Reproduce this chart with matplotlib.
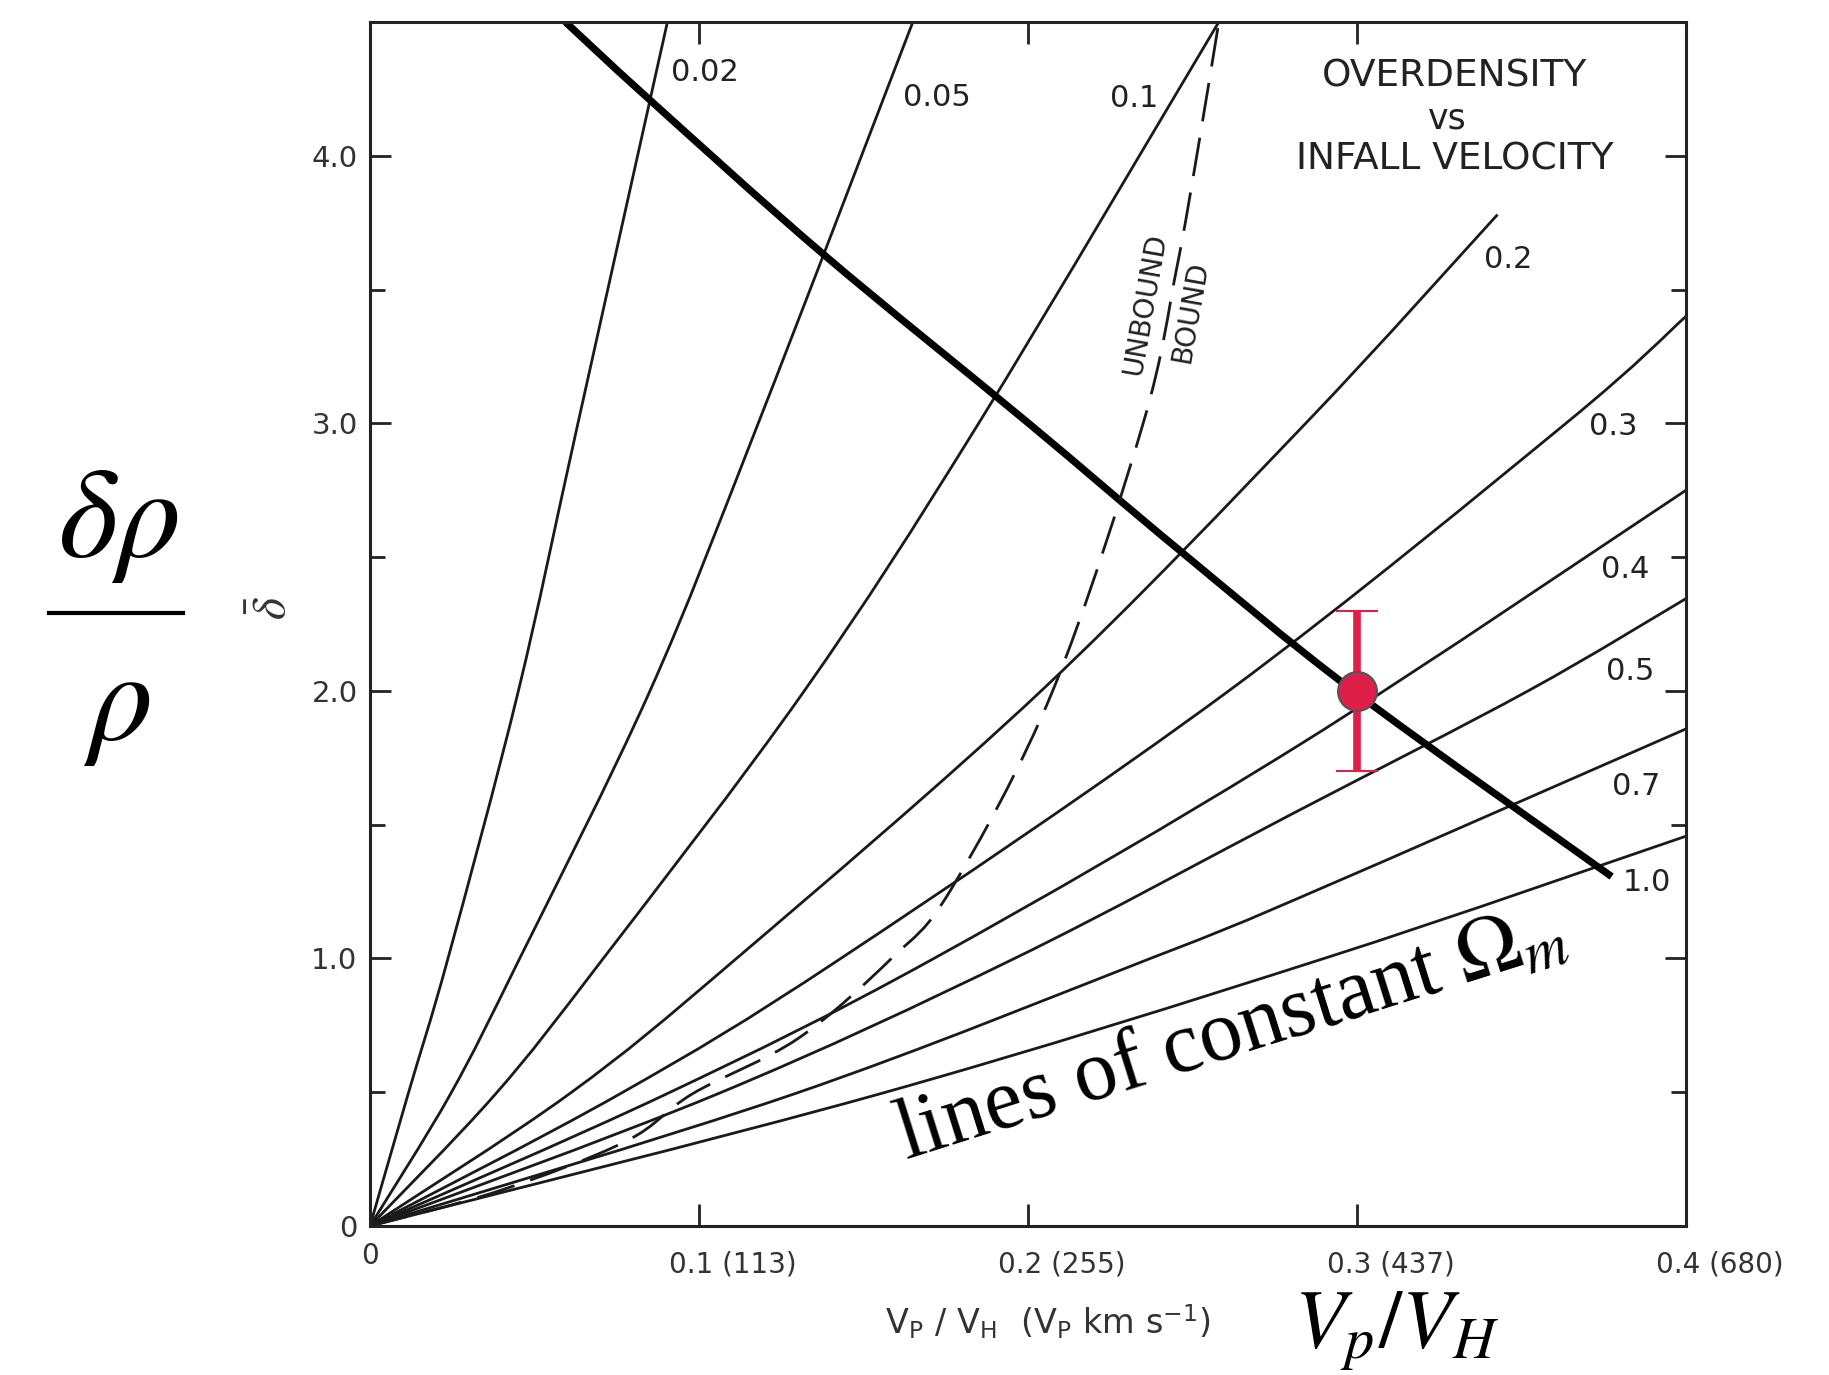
import matplotlib
matplotlib.use("Agg")
import numpy as np
import matplotlib.pyplot as plt
from matplotlib.lines import Line2D
from matplotlib.patches import PathPatch
from matplotlib.path import Path
from matplotlib.ticker import MultipleLocator
from matplotlib import transforms

plt.rcParams["mathtext.fontset"] = "stix"
plt.rcParams["font.family"] = ["DejaVu Sans"]

# ---- curves of constant Omega (x = Vp/VH, y = overdensity) ----
omega_labels = ["0.02", "0.05", "0.1", "0.2", "0.3", "0.4", "0.5", "0.7", "1.0"]

om002_x = [0, 0.0116, 0.0237, 0.0451, 0.0632, 0.0904]
om002_y = [0, 0.494, 1.0, 2.0, 3.0, 4.5]
om005_x = [0, 0.0245, 0.0455, 0.0851, 0.118, 0.165]
om005_y = [0, 0.494, 1.0, 2.0, 3.0, 4.5]
om01_x = [0, 0.0382, 0.0709, 0.132, 0.185, 0.258]
om01_y = [0, 0.494, 1.0, 2.0, 3.0, 4.5]
om02_x = [0, 0.0606, 0.1114, 0.204, 0.2844, 0.3427]
om02_y = [0, 0.494, 1.0, 2.0, 3.0, 3.78]
om03_x = [0, 0.076, 0.1431, 0.261, 0.3635, 0.4]
om03_y = [0, 0.494, 1.0, 2.0, 3.0, 3.40]
om04_x = [0, 0.0902, 0.1714, 0.2827, 0.4]
om04_y = [0, 0.494, 1.0, 1.80, 2.75]
om05_x = [0, 0.1057, 0.1959, 0.2807, 0.352, 0.4]
om05_y = [0, 0.494, 1.0, 1.543, 2.0, 2.345]
om07_x = [0, 0.129, 0.2372, 0.2827, 0.4]
om07_y = [0, 0.494, 1.0, 1.228, 1.858]
om10_x = [0, 0.155, 0.29, 0.4]
om10_y = [0, 0.494, 1.0, 1.457]

omega_x = [om002_x, om005_x, om01_x, om02_x, om03_x, om04_x, om05_x, om07_x, om10_x]
omega_y = [om002_y, om005_y, om01_y, om02_y, om03_y, om04_y, om05_y, om07_y, om10_y]

# label anchor points for each Omega curve
label_x = [0.1018, 0.1723, 0.2322, 0.3459, 0.378, 0.3815, 0.383, 0.385, 0.388]
label_y = [4.31, 4.217, 4.213, 3.614, 2.99, 2.453, 2.073, 1.643, 1.285]

# heavy curve
heavy_x = [0.0594, 0.0845, 0.1378, 0.2002, 0.2456, 0.2993, 0.3774]
heavy_y = [4.5, 4.215, 3.632, 3.0, 2.53, 1.996, 1.306]

# bound / unbound boundary (dashed)
bound_x = [0, 0.0389, 0.0777, 0.098, 0.13, 0.1585, 0.1767, 0.2075, 0.235, 0.2452, 0.2513, 0.258]
bound_y = [0, 0.13, 0.316, 0.494, 0.7, 1.0, 1.26, 2.0, 3.0, 3.58, 4.0, 4.5]

# measured point
obs_x = [0.30]
obs_y = [2.0]
obs_err = [0.3]

x_ticks = [0, 0.1, 0.2, 0.3, 0.4]
x_ticklabels = ["0", "0.1 (113)", "0.2 (255)", "0.3 (437)", "0.4 (680)"]
y_ticks = [0, 1, 2, 3, 4]
y_ticklabels = ["0", "1.0", "2.0", "3.0", "4.0"]


def smooth_path(xs, ys):
    """Cubic Bezier path passing through every given point (Catmull-Rom tangents)."""
    pts = np.column_stack([xs, ys]).astype(float)
    n = len(pts)
    verts = [pts[0]]
    codes = [Path.MOVETO]
    for i in range(n - 1):
        p0 = pts[i - 1] if i > 0 else pts[i]
        p1, p2 = pts[i], pts[i + 1]
        p3 = pts[i + 2] if i + 2 < n else pts[i + 1]
        verts += [p1 + (p2 - p0) / 6.0, p2 - (p3 - p1) / 6.0, p2]
        codes += [Path.CURVE4] * 3
    return Path(verts, codes)


def draw_curve(ax, xs, ys, **kw):
    patch = PathPatch(smooth_path(xs, ys), fill=False, transform=ax.transData,
                      capstyle="butt", joinstyle="round", **kw)
    ax.add_patch(patch)
    return patch


W, H = 1829, 1375
fig = plt.figure(figsize=(W / 100, H / 100), dpi=100)
ax = fig.add_axes([370 / W, (H - 1226) / H, (1686 - 370) / W, (1226 - 22) / H])
ax.set_xlim(0, 0.4)
ax.set_ylim(0, 4.5)

ink = "#1a1a1a"
for xs, ys in zip(omega_x, omega_y):
    draw_curve(ax, xs, ys, edgecolor=ink, lw=2.0)
draw_curve(ax, heavy_x, heavy_y, edgecolor="black", lw=5.2)
draw_curve(ax, bound_x, bound_y, edgecolor=ink, lw=2.0, linestyle=(0, (14, 6)))

for lab, lx, ly in zip(omega_labels, label_x, label_y):
    ax.text(lx, ly, lab, fontsize=22, color="#222222", ha="center", va="center")

# title block
ax.text(0.3298, 4.298, "OVERDENSITY", fontsize=27, ha="center", va="center", color="#222222")
ax.text(0.3275, 4.139, "vs", fontsize=25, ha="center", va="center", color="#222222")
ax.text(0.3298, 3.985, "INFALL VELOCITY", fontsize=27, ha="center", va="center", color="#222222")

ax.text(0.2356, 3.446, "UNBOUND", fontsize=20, rotation=80, ha="center", va="center",
        rotation_mode="anchor", color="#222222")
ax.text(0.2492, 3.415, "BOUND", fontsize=20, rotation=80, ha="center", va="center",
        rotation_mode="anchor", color="#222222")

# data point with error bar
red = "#DE1F48"
ax.errorbar(obs_x, obs_y, yerr=obs_err, fmt="o", color=red, ecolor=red, elinewidth=5.5,
            capsize=15, capthick=5.5, markersize=28, markerfacecolor=red,
            markeredgecolor="#555555", markeredgewidth=1.5, zorder=5)

ax.text(0.163, 0.243, r"lines of constant $\Omega_m$", fontsize=62,
        family="Liberation Serif", rotation=17.5, rotation_mode="anchor",
        ha="left", va="baseline", color="black")

# axes styling
for sp in ax.spines.values():
    sp.set_linewidth(2.2)
    sp.set_color("#222222")
ax.set_xticks(x_ticks)
ax.set_xticklabels([])
ax.set_yticks(y_ticks)
ax.set_yticklabels(y_ticklabels)
ax.yaxis.set_minor_locator(MultipleLocator(0.5))
ax.tick_params(axis="both", which="both", direction="in", top=True, right=True,
               color="#222222", width=2)
ax.tick_params(axis="y", which="major", length=15, pad=9, labelsize=21, labelcolor="#333333")
ax.tick_params(axis="y", which="minor", length=11)
ax.tick_params(axis="x", which="major", length=16)

base = transforms.blended_transform_factory(ax.transData, ax.transAxes)
for xv, lab in zip(x_ticks, x_ticklabels):
    if lab == "0":
        tr = transforms.offset_copy(base, fig=fig, x=0, y=-30, units="dots")
        ax.text(xv, 0, lab, transform=tr, ha="center", va="center", fontsize=20, color="#333333")
    else:
        tr = transforms.offset_copy(base, fig=fig, x=-30, y=-39, units="dots")
        ax.text(xv, 0, lab, transform=tr, ha="left", va="center", fontsize=20, color="#333333")

fig.text(1048 / W, 1 - 1322 / H,
         r"V$_\mathregular{P}$ / V$_\mathregular{H}$  (V$_\mathregular{P}$ km s$^\mathregular{-1}$)",
         fontsize=24, ha="center", va="center", color="#333333")

ax.text(-0.0295, 2.31, r"$\bar{\delta}$", fontsize=34, rotation=90, ha="center", va="center",
        color="#333333")

# large annotations
fig.text(1294 / W, 1 - 1348 / H, r"$V_p/V_H$", fontsize=60, ha="left", va="baseline")
fig.text(118 / W, 1 - 557 / H, r"$\delta\rho$", fontsize=92, ha="center", va="baseline")
fig.text(117 / W, 1 - 740 / H, r"$\rho$", fontsize=92, ha="center", va="baseline")
fig.add_artist(Line2D([49 / W, 183 / W], [1 - 613 / H, 1 - 613 / H], lw=3,
                      color="black", transform=fig.transFigure))

fig.savefig("out.png", dpi=100)
